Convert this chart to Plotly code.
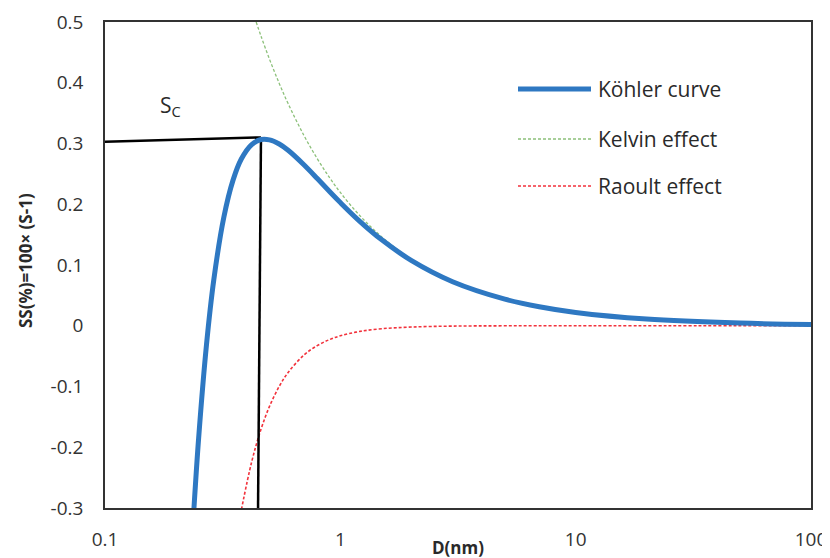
import plotly.graph_objects as go

# Köhler curve
kohler_D = [0.238, 0.25, 0.27, 0.29, 0.32, 0.35, 0.38, 0.42, 0.46, 0.50, 0.55, 0.6, 0.7, 0.8, 0.9,
            1.0, 1.2, 1.5, 2, 3, 5, 7, 10, 20, 50, 100]
kohler_S = [-0.3095, -0.1848, -0.0308, 0.0760, 0.1790, 0.2397, 0.2749, 0.2983, 0.3065, 0.3060, 0.2991,
            0.2888, 0.2650, 0.2419, 0.2210, 0.2028, 0.1732, 0.1414, 0.1076, 0.0725, 0.0438, 0.0313,
            0.0219, 0.0110, 0.0044, 0.0022]

# Kelvin effect
kelvin_D = [0.4388, 0.46, 0.50, 0.55, 0.6, 0.7, 0.8, 0.9, 1.0, 1.2, 1.5, 2, 3, 5, 7, 10, 20, 50, 100]
kelvin_S = [0.5, 0.4770, 0.4388, 0.3989, 0.3657, 0.3134, 0.2743, 0.2438, 0.2194, 0.1828, 0.1463,
            0.1097, 0.0731, 0.0439, 0.0313, 0.0219, 0.0110, 0.0044, 0.0022]

# Raoult effect
raoult_D = [0.38, 0.42, 0.46, 0.50, 0.55, 0.6, 0.7, 0.8, 0.9, 1.0, 1.2, 1.5, 2, 3, 5, 10, 100]
raoult_S = [-0.3025, -0.2241, -0.1705, -0.1328, -0.0998, -0.0769, -0.0484, -0.0324, -0.0228,
            -0.0166, -0.0096, -0.0049, -0.0021, -0.0006, -0.0001, 0.0, 0.0]

# critical point guide lines
sc_line_D = [0.1, 0.46]
sc_line_S = [0.303, 0.31]
dc_line_D = [0.46, 0.447]
dc_line_S = [0.31, -0.3]

y_ticks = [0.5, 0.4, 0.3, 0.2, 0.1, 0, -0.1, -0.2, -0.3]
y_ticktext = ["0.5", "0.4", "0.3", "0.2", "0.1", "0", "-0.1", "-0.2", "-0.3"]
x_ticks = [0.1, 1, 10, 100]
x_ticktext = ["0.1", "1", "10", "100"]

legend_names = ["Köhler curve", "Kelvin effect", "Raoult effect"]
x_title = "<b>D(nm)</b>"
y_title = "<b>SS(%)=100× (S-1)</b>"

BLUE = "#2E78C2"
GREEN = "#8CC07A"
RED = "#F2323C"
FONT = "Open Sans"
TXT = "#2a2a2a"

# page has an 8px body margin: the figure is sized/offset to compensate
OFF = 8
W, H = 830 - OFF, 558 - OFF
L, T = 105 - OFF, 22 - OFF
R = W - (811 - OFF)
B = H - (508 - OFF)
pw, ph = W - L - R, H - T - B
def px2paper(xp, yp):
    """page pixel -> paper coords"""
    xp -= OFF
    yp -= OFF
    return (xp - L) / pw, 1 - (yp - T) / ph

fig = go.Figure()
fig.add_trace(go.Scatter(x=raoult_D, y=raoult_S, mode="lines",
                         line=dict(color=RED, width=1.6, dash="3px,2px", shape="spline"),
                         showlegend=False))
fig.add_trace(go.Scatter(x=kelvin_D, y=kelvin_S, mode="lines",
                         line=dict(color=GREEN, width=1.3, dash="3px,2px", shape="spline"),
                         showlegend=False))
fig.add_trace(go.Scatter(x=sc_line_D, y=sc_line_S, mode="lines",
                         line=dict(color="black", width=2.5), showlegend=False))
fig.add_trace(go.Scatter(x=dc_line_D, y=dc_line_S, mode="lines",
                         line=dict(color="black", width=2.5), showlegend=False))
fig.add_trace(go.Scatter(x=kohler_D, y=kohler_S, mode="lines",
                         line=dict(color=BLUE, width=5, shape="spline"),
                         showlegend=False))

# custom legend (sample lines + labels)
leg_y_px = [89, 139, 186]
styles = [dict(color=BLUE, width=5), dict(color=GREEN, width=1.3, dash="3px,2px"),
          dict(color=RED, width=1.6, dash="3px,2px")]
for name, yp, st in zip(legend_names, leg_y_px, styles):
    x0, y0 = px2paper(518, yp)
    x1, _ = px2paper(591, yp)
    fig.add_shape(type="line", xref="paper", yref="paper", x0=x0, x1=x1, y0=y0, y1=y0, line=st)
    xt, _ = px2paper(596, yp)
    fig.add_annotation(xref="paper", yref="paper", x=xt, y=y0, text=name, showarrow=False,
                       xanchor="left", yanchor="middle",
                       font=dict(family=FONT, size=21, color=TXT))

sx, sy = px2paper(170, 106)
fig.add_annotation(xref="paper", yref="paper", x=sx, y=sy, text="S<sub>C</sub>", showarrow=False,
                   xanchor="center", yanchor="middle", font=dict(family=FONT, size=21, color=TXT))

# axis titles
tx, ty = px2paper(458, 547)
fig.add_annotation(xref="paper", yref="paper", x=tx, y=ty, text=x_title, showarrow=False,
                   xanchor="center", yanchor="middle", font=dict(family=FONT, size=17, color=TXT))
tx, ty = px2paper(25, 261)
fig.add_annotation(xref="paper", yref="paper", x=tx, y=ty, text=y_title, showarrow=False,
                   textangle=-90, xanchor="center", yanchor="middle",
                   font=dict(family=FONT, size=17, color=TXT))

fig.update_layout(
    width=W, height=H,
    margin=dict(l=L, r=R, t=T, b=B),
    paper_bgcolor="white", plot_bgcolor="white",
    font=dict(family=FONT, size=19, color="#333333"),
    xaxis=dict(type="log", range=[-1, 2], tickvals=x_ticks, ticktext=x_ticktext,
               showgrid=False, zeroline=False, showline=True, linecolor="#333333", linewidth=1.5,
               mirror=True, ticks="", ticklabelstandoff=13, automargin=False),
    yaxis=dict(range=[-0.3, 0.5], tickvals=y_ticks, ticktext=y_ticktext,
               showgrid=False, zeroline=False, showline=True, linecolor="#333333", linewidth=1.5,
               mirror=True, ticks="", ticklabelstandoff=16, automargin=False),
)

fig.write_html("out.html")
